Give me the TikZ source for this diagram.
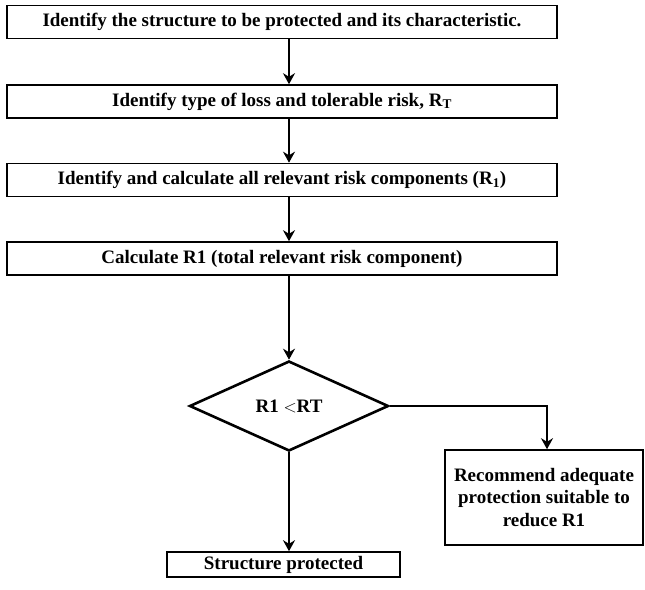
\documentclass[tikz,border=0pt]{standalone}
\usepackage{fontspec}
\setmainfont{Liberation Serif}
\usetikzlibrary{calc,positioning,shapes.geometric,arrows.meta}

\begin{document}
\begin{tikzpicture}[x=1pt,y=-1pt]

    \tikzstyle{stepbox}=[draw,line width=1.6pt,minimum width=550pt,minimum height=33pt,inner sep=0pt,font=\bfseries\fontsize{19}{22}\selectfont]
    \tikzstyle{decision}=[draw,diamond,line width=2.6pt,minimum width=199pt,minimum height=90pt,aspect=2.2,inner sep=0pt,font=\bfseries\fontsize{19}{22}\selectfont]
    \tikzstyle{endbox}=[draw,line width=1.6pt,inner sep=0pt,align=center,font=\bfseries\fontsize{19}{22.5}\selectfont]
    \tikzstyle{flow}=[-{Stealth[length=11pt,width=12pt]},line width=2.8pt]

\useasboundingbox (0,0) rectangle (645,589);

      \coordinate (origo) at (0,0);

    \node (identify) [stepbox] at (282,22) {Identify the structure to be protected and its characteristic.};
    \node (loss) [stepbox] at (282,101.5) {Identify type of loss and tolerable risk, R\textsubscript{T}};
    \node (components) [stepbox] at (282,180) {Identify and calculate all relevant risk components (R\textsubscript{1})};
    \node (total) [stepbox] at (282,258.5) {Calculate R1 (total relevant risk component)};

\node (check) [decision] at (289,406) {R1 {$<$}RT};

\node (recommend) [endbox,minimum width=198pt,minimum height=95pt] at (544,497.5) {Recommend adequate\\protection suitable to\\reduce R1};

\node (protected) [endbox,minimum width=233pt,minimum height=25pt] at (283.5,564.5) {Structure protected};

\draw [flow] (identify.south -| check) -- (loss.north -| check);
\draw [flow] (loss.south -| check) -- (components.north -| check);
\draw [flow] (components.south -| check) -- (total.north -| check);
\draw [flow] (total.south -| check) -- (check.north);

\draw [flow] (check.east) -| ($(recommend.north)+(3,0)$);
\draw [flow] (check.south) -- (protected.north -| check);

\end{tikzpicture}
\end{document}
